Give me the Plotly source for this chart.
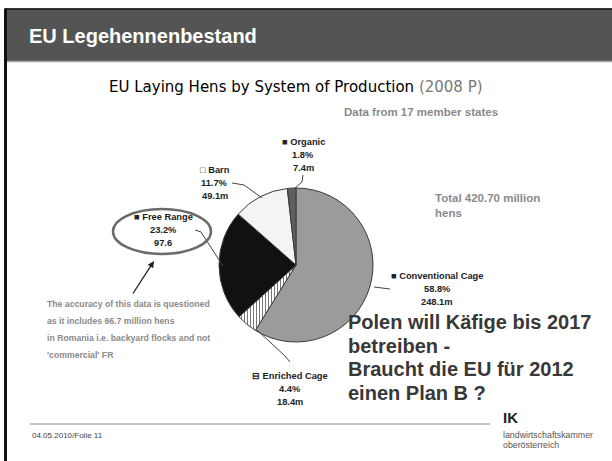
import plotly.graph_objects as go

W, H = 612, 461

# ---- data ----
categories = ["Conventional Cage", "Enriched Cage", "Free Range", "Barn", "Organic"]
shares_pct = [58.8, 4.4, 23.2, 11.7, 1.8]
values_m = ["248.1m", "18.4m", "97.6", "49.1m", "7.4m"]
colors = ["#9b9b9b", "#ffffff", "#111111", "#f4f4f4", "#5e5e5e"]
symbols = ["■", "⊟", "■", "□", "■"]
total_text = "Total 420.70 million"


def px(x, y):
    return x / W, 1 - y / H


cx, cy, r = 296, 265, 77
fig = go.Figure()
fig.add_trace(go.Pie(
    labels=categories, values=shares_pct, sort=False, direction="clockwise",
    rotation=0, textinfo="none", hoverinfo="label+percent",
    marker=dict(colors=colors, line=dict(color="#3a3a3a", width=1),
                pattern=dict(shape=["", "|", "", "", ""], fgcolor="#777777",
                             bgcolor=colors, size=3, solidity=0.35)),
    domain=dict(x=[(cx - r) / W, (cx + r) / W], y=[1 - (cy + r) / H, 1 - (cy - r) / H]),
    showlegend=False,
))

shapes = []
ann = []


def line(pts, color="#444444", width=1):
    path = "M " + " L ".join(f"{px(x, y)[0]:.5f},{px(x, y)[1]:.5f}" for x, y in pts)
    shapes.append(dict(type="path", path=path, xref="paper", yref="paper",
                       line=dict(color=color, width=width)))


def text(x, y, s, size=9.3, color="#222222", xanchor="center", family="Liberation Sans, Arial",
         bold=True):
    xp, yp = px(x, y)
    ann.append(dict(x=xp, y=yp, xref="paper", yref="paper", text=(f"<b>{s}</b>" if bold else s),
                    showarrow=False, xanchor=xanchor, yanchor="middle",
                    font=dict(size=size, color=color, family=family)))


# slide frame & title bar
shapes.append(dict(type="rect", xref="paper", yref="paper", x0=px(5, 0)[0], x1=1,
                   y0=px(0, 61)[1], y1=px(0, 8.5)[1], fillcolor="#545454", line=dict(width=0)))
shapes.append(dict(type="line", xref="paper", yref="paper", x0=px(5, 0)[0], x1=1,
                   y0=px(0, 9)[1], y1=px(0, 9)[1], line=dict(color="#111111", width=1.5)))
shapes.append(dict(type="line", xref="paper", yref="paper", x0=px(5, 0)[0], x1=1,
                   y0=px(0, 61.5)[1], y1=px(0, 61.5)[1], line=dict(color="#a8a8a8", width=1.5)))
shapes.append(dict(type="line", xref="paper", yref="paper", x0=px(5.5, 0)[0], x1=px(5.5, 0)[0],
                   y0=0, y1=px(0, 8.5)[1], line=dict(color="#111111", width=3)))
text(27, 36, "EU Legehennenbestand", size=20, color="#ffffff", xanchor="left")

# chart title
text(107, 87, "EU Laying Hens by System of Production <span style='color:#777777'>(2008 P)</span>",
     size=15, color="#000000", xanchor="left", family="DejaVu Sans", bold=False)
text(342, 112, "Data from 17 member states", size=11.5, color="#8a8a8a", xanchor="left")

# slice labels
label_pos = {
    "Conventional Cage": (437, 276),
    "Enriched Cage": (290, 376),
    "Free Range": (163, 217),
    "Barn": (215, 170),
    "Organic": (303, 142),
}
for cat, pct, val, sym in zip(categories, shares_pct, values_m, symbols):
    x, y = label_pos[cat]
    text(x, y, f"{sym} {cat}")
    text(x, y + 13, f"{pct}%")
    text(x, y + 26, val)

line([(374, 287), (390, 289)])                       # conventional
line([(257, 330), (285, 356), (290, 362)])           # enriched
line([(195, 230), (201, 232), (223, 266)])           # free range
line([(232, 183), (244, 185), (262, 198)])           # barn
line([(303, 175), (302, 182), (294, 189)])           # organic

# ellipse around free range
shapes.append(dict(type="circle", xref="paper", yref="paper",
                   x0=px(113, 0)[0], x1=px(211, 0)[0], y0=px(0, 254)[1], y1=px(0, 209)[1],
                   line=dict(color="#6a6a6a", width=2.5)))
# arrow
ann.append(dict(x=px(154, 261)[0], y=px(154, 261)[1], ax=-22, ay=34,
                xref="paper", yref="paper", axref="pixel", ayref="pixel", text="",
                showarrow=True, arrowhead=2, arrowsize=1, arrowwidth=1.3, arrowcolor="#222222"))

note_lines = ["The accuracy of this data is questioned", "as it includes 66.7 million hens",
              "in Romania i.e. backyard flocks and not", "'commercial' FR"]
for i, s in enumerate(note_lines):
    text(45, 304 + 17 * i, s, size=8.7, color="#8a8a8a", xanchor="left")

text(433, 198, total_text, size=11.5, color="#8a8a8a", xanchor="left")
text(433, 213, "hens", size=11.5, color="#8a8a8a", xanchor="left")

big = ["Polen will Käfige bis 2017", "betreiben -", "Braucht die EU für 2012", "einen Plan B ?"]
for i, s in enumerate(big):
    text(346, 322 + 23.7 * i, s, size=20, color="#383838", xanchor="left")

# footer
shapes.append(dict(type="line", xref="paper", yref="paper", x0=px(30, 0)[0], x1=px(490, 0)[0],
                   y0=px(0, 424)[1], y1=px(0, 424)[1], line=dict(color="#8a8a8a", width=1)))
text(30, 435, "04.05.2010/Folie 11", size=8, color="#444444", xanchor="left", bold=False)
text(501, 417, "IK", size=15, color="#222222", xanchor="left", family="Liberation Sans, Arial Black")
text(501, 435, "landwirtschaftskammer", size=8.8, color="#555555", xanchor="left",
     family="Liberation Sans Narrow, Liberation Sans", bold=False)
text(501, 445, "oberösterreich", size=8.8, color="#555555", xanchor="left",
     family="Liberation Sans Narrow, Liberation Sans", bold=False)

fig.update_layout(width=W, height=H, margin=dict(l=0, r=0, t=0, b=0),
                  paper_bgcolor="#ffffff", plot_bgcolor="#ffffff",
                  shapes=shapes, annotations=ann)
fig.write_html("out.html", config={"displayModeBar": False},
               post_script="document.body.style.margin='0';")
